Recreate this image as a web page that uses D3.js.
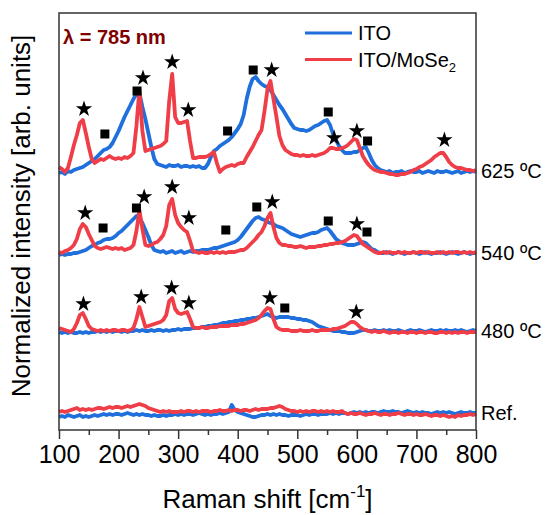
<!DOCTYPE html>
<head lang="en">
<meta charset="utf-8">
<title>Raman spectra ITO vs ITO/MoSe2</title>
<style>
body { margin:0; background:#fff; }
* { font-family:"Liberation Sans", Arial, sans-serif; }
</style>
<script src="https://cdn.jsdelivr.net/npm/d3@7"></script>
</head>
<body>
<script>
// Raman shift sampling (cm-1), one value every 5 cm-1
var shift = d3.range(100, 801, 5);

// vertical offset of each spectrum pair (arb. units)
var bands = ["Ref.", "480 ºC", "540 ºC", "625 ºC"];
var offsets = [17, 99, 177, 259];

// intensities, relative to each band's baseline
var itoRef = [-4,-3,-4,-2,-3,-4,-3,-2,-4,-3, -4,-3,-2,-3,-2,-1,-2,-1,-2,-1,
  -1,-2,-1,0,-1,-2,-1,-2,-1,-2, -2,-3,-2,-3,-3,-2,-3,-2,-2,-1,
  -2,-1,-2,-1,-1,-2,-1,0,-1,-2, -1,-2,-1,-1,0,-1,0,1,8,3,
  1,0,-1,-2,-3,-4,-4,-3,-2,-2, -1,-2,-1,-2,-1,-2,-2,-3,-2,-2,
  -2,-3,-2,-1,-2,-1,-1,-2,-1,-1, -1,0,-1,0,-1,0,0,-1,0,1,
  0,1,0,1,0,1,1,0,1,2, 1,1,2,1,1,0,1,2,1,0,
  1,0,1,0,0,-1,0,1,0,1, 0,1,0,-1,0,1,0,0,1,0, 0];
var moseRef = [1,2,1,2,3,4,5,3,4,3, 4,3,4,5,5,4,5,6,5,6,
  6,5,6,7,6,7,8,9,8,7, 5,4,3,2,1,2,1,2,1,1,
  1,2,1,2,2,1,2,1,2,2, 2,1,2,2,3,2,2,3,2,3,
  3,2,3,3,2,3,4,3,4,4, 4,5,5,6,7,6,4,3,2,2,
  1,2,1,2,1,2,2,1,2,1, 2,1,2,1,1,2,0,-1,0,-1,
  -1,0,-1,-2,-1,-1,0,-1,-2,-1, -1,-2,-1,-1,0,-1,-2,-1,-1,-2,
  -1,-2,-2,-1,-2,-3,-2,-2,-3,-2, -3,-4,-3,-4,-2,-3,-2,-2,-1,-2, -1];

var ito480 = [-1,-2,-1,-2,-1,-2,-2,-1,-2,-1, -2,-1,-1,0,-1,0,-1,0,-1,0,
  0,-1,0,-1,0,0,1,0,1,0, 0,1,0,1,1,0,1,0,1,1,
  2,1,2,2,2,3,3,3,4,4, 5,5,6,6,7,8,8,9,9,10,
  10,11,11,12,12,13,13,14,15,16, 17,15,14,13,14,14,14,14,13,13,
  12,12,11,11,10,9,7,5,4,3, 2,1,0,0,0,-1,-1,-2,-2,-2,
  -1,0,1,1,0,0,1,0,0,1, 0,1,0,0,1,0,-1,0,1,0,
  0,1,0,-1,0,1,0,0,1,0, 1,0,0,1,0,1,0,-1,0,1, 0];
var mose480 = [3,2,1,0,-1,2,8,16,18,12, 5,2,1,0,1,0,1,0,1,1,
  0,1,1,0,1,3,12,24,14,4, 5,6,7,8,9,11,16,30,33,22,
  18,17,18,19,12,4,3,3,4,3, 3,4,4,4,5,5,5,5,6,6,
  6,7,7,8,9,10,11,13,16,20, 23,22,12,4,2,1,1,1,0,0,
  0,1,0,0,0,1,0,0,1,1, 1,1,2,2,3,4,5,7,9,9,
  7,4,2,1,0,-1,0,-1,-1,0, -1,-2,-1,-1,-2,-1,-1,-2,-1,-1,
  -2,-1,-1,-2,-1,-1,-2,-2,-1,-1, -2,-1,-2,-1,-2,-1,-1,-2,-1,-1, -1];

var ito540 = [-2,-1,-2,-1,-1,0,0,1,2,3, 5,7,8,10,11,13,14,14,15,17,
  20,22,25,28,31,34,37,36,30,23, 16,8,3,2,1,2,0,1,2,0,
  1,2,0,1,2,1,2,2,3,3, 3,4,5,5,6,7,8,9,10,11,
  13,16,20,24,28,32,35,36,34,33, 31,30,29,27,26,25,23,21,19,18,
  17,16,17,18,19,20,20,21,23,24, 25,22,18,14,12,10,9,8,8,8,
  9,10,11,10,7,4,3,1,0,0, 1,0,-1,0,1,0,-1,0,0,1,
  0,-1,0,1,0,-1,0,0,1,0, -1,0,1,0,-1,0,1,0,-1,0, 0];
var mose540 = [1,0,2,3,5,8,14,24,29,26, 19,13,7,5,4,5,6,5,4,5,
  4,5,3,4,5,8,22,43,24,8, 7,8,10,11,14,18,27,48,54,38,
  30,26,23,21,12,2,1,0,1,0, 0,1,0,1,0,1,0,1,1,1,
  2,3,3,5,8,11,14,18,21,27, 35,40,26,15,10,8,8,7,7,6,
  6,7,6,5,6,6,6,7,7,8, 8,9,9,10,10,11,12,14,16,18,
  17,13,9,7,5,3,1,0,0,1, 0,1,0,0,1,0,1,0,0,1,
  0,1,1,0,1,0,0,1,0,1, 0,1,0,1,1,0,1,0,1,0, 1];

var ito625 = [-2,-1,-3,0,-1,1,2,3,4,6, 8,10,12,15,18,21,22,24,28,34,
  40,47,54,60,66,72,77,78,64,52, 38,24,12,7,6,5,4,6,5,5,
  6,4,5,5,4,5,4,5,3,3, 7,14,20,22,25,27,29,31,34,38,
  42,47,56,72,84,92,94,90,87,85, 84,81,76,71,66,62,57,52,47,43,
  42,41,41,40,41,43,45,46,48,50, 51,46,37,31,25,21,18,18,18,19,
  19,21,23,24,18,11,6,3,1,0, -1,0,-2,-1,-1,0,-2,-1,0,-1,
  -1,0,-2,-1,0,-1,-2,0,-1,-1, 0,-1,-2,-1,0,-2,-1,0,-1,0, -1];
var mose625 = [4,2,-1,3,14,26,36,48,51,38, 24,12,8,10,12,11,13,15,13,12,
  13,12,14,13,15,18,45,82,40,20, 21,22,23,24,25,27,30,70,97,54,
  48,48,49,50,30,13,13,14,14,14, 15,17,19,8,-1,2,4,5,6,5,
  7,8,8,14,19,24,30,36,41,60, 82,90,72,54,35,26,21,19,17,16,
  16,15,16,15,15,16,15,16,17,18, 20,23,23,22,22,23,24,26,29,32,
  31,23,15,10,6,3,1,0,-1,-1, -2,-3,-3,-4,-4,-3,-3,-2,-1,1,
  2,4,5,7,9,11,14,16,18,18, 14,9,6,4,3,3,2,1,1,0, 1];

var itoSeries = [itoRef, ito480, ito540, ito625];
var moseSeries = [moseRef, mose480, mose540, mose625];

// peak markers: [band index, Raman shift, height above baseline]
var starMarks = [[3,142,62],[3,241,93],[3,290,109],[3,317,61],[3,457,101],[3,562,33],[3,600,40],[3,747,31],
  [2,144,40],[2,243,56],[2,290,66],[2,318,35],[2,458,51],[2,600,29],
  [1,141,27],[1,238,34],[1,289,43],[1,318,28],[1,454,33],[1,599,19]];
var squareMarks = [[3,177,37],[3,231,80],[3,383,40],[3,426,101],[3,552,59],[3,618,30],
  [2,174,25],[2,230,45],[2,380,23],[2,432,46],[2,552,32],[2,617,21],
  [1,479,23]];

var xTicks = [100, 200, 300, 400, 500, 600, 700, 800];
var xMinor = [150, 250, 350, 450, 550, 650, 750];

var blue = "#1f6fdc", red = "#ef3e47", frame = "#333";

var width = 547, height = 515;
var m = {left: 59, top: 13, right: 71, bottom: 85};
var w = width - m.left - m.right, h = height - m.top - m.bottom;

var svg = d3.select("body").append("svg")
    .attr("width", width)
    .attr("height", height);

var x = d3.scaleLinear().domain([100, 800]).range([m.left, m.left + w]);
var y = d3.scaleLinear().domain([0, 417]).range([m.top + h, m.top]);

var plot = svg.append("g");

function drawBand(series, color) {
    series.forEach(function(vals, b) {
        var line = d3.line()
            .x(function(d, i) { return x(shift[i]); })
            .y(function(d) { return y(offsets[b] + d); });
        plot.append("path")
            .datum(vals)
            .attr("d", line)
            .attr("fill", "none")
            .attr("stroke", color)
            .attr("stroke-width", 3.8)
            .attr("stroke-linejoin", "round");
    });
}
drawBand(itoSeries, blue);
drawBand(moseSeries, red);

// markers
plot.selectAll("path.star")
    .data(starMarks)
    .enter()
    .append("path")
        .attr("class", "star")
        .attr("d", d3.symbol().type(d3.symbolStar).size(82))
        .attr("transform", function(d) { return "translate(" + x(d[1]) + "," + y(offsets[d[0]] + d[2]) + ")"; })
        .attr("fill", "#000");

plot.selectAll("rect.sq")
    .data(squareMarks)
    .enter()
    .append("rect")
        .attr("class", "sq")
        .attr("x", function(d) { return x(d[1]) - 4.5; })
        .attr("y", function(d) { return y(offsets[d[0]] + d[2]) - 4.5; })
        .attr("width", 9)
        .attr("height", 9)
        .attr("fill", "#000");

// frame
svg.append("rect")
    .attr("x", m.left).attr("y", m.top)
    .attr("width", w).attr("height", h)
    .attr("fill", "none")
    .attr("stroke", frame)
    .attr("stroke-width", 1.5);

// x axis
var xAxis = svg.append("g")
    .attr("transform", "translate(0," + (m.top + h) + ")")
    .call(d3.axisBottom(x).tickValues(xTicks).tickSize(9).tickPadding(6).tickFormat(d3.format("d")));
xAxis.select(".domain").remove();
xAxis.selectAll("line").attr("stroke", frame).attr("stroke-width", 1.5);
xAxis.selectAll("text").attr("font-size", 25).attr("fill", "#000")
    .style("font-family", "'Liberation Sans', Arial, sans-serif");

var xAxisMinor = svg.append("g")
    .attr("transform", "translate(0," + (m.top + h) + ")")
    .call(d3.axisBottom(x).tickValues(xMinor).tickSize(5).tickFormat(""));
xAxisMinor.select(".domain").remove();
xAxisMinor.selectAll("line").attr("stroke", frame).attr("stroke-width", 1.5);

// axis titles
var xTitle = svg.append("text")
    .attr("x", m.left + w / 2)
    .attr("y", 508)
    .attr("text-anchor", "middle")
    .attr("font-size", 26);
xTitle.append("tspan").text("Raman shift [cm");
xTitle.append("tspan").attr("font-size", 17).attr("dy", -11).text("-1");
xTitle.append("tspan").attr("dy", 11).text("]");

svg.append("text")
    .attr("transform", "translate(30," + 216 + ") rotate(-90)")
    .attr("text-anchor", "middle")
    .attr("font-size", 26)
    .text("Normalized intensity [arb. units]");

// band labels on the right
svg.selectAll("text.band")
    .data(bands)
    .enter()
    .append("text")
        .attr("class", "band")
        .attr("x", m.left + w + 5)
        .attr("y", function(d, i) { return y(offsets[i]); })
        .attr("dy", "0.36em")
        .attr("font-size", 20)
        .text(function(d) { return d; });

// wavelength note
svg.append("text")
    .attr("x", 63).attr("y", 44)
    .attr("font-size", 20)
    .attr("font-weight", "bold")
    .attr("fill", "#800000")
    .text("λ = 785 nm");

// legend
var legend = [["ITO", blue], ["ITO/MoSe", red]];
var lg = svg.selectAll("g.leg")
    .data(legend)
    .enter()
    .append("g")
        .attr("class", "leg")
        .attr("transform", function(d, i) { return "translate(305," + (33 + i * 26.5) + ")"; });
lg.append("line")
    .attr("x1", 0).attr("x2", 47)
    .attr("stroke", function(d) { return d[1]; })
    .attr("stroke-width", 3.2);
var lt = lg.append("text")
    .attr("x", 53).attr("y", 7)
    .attr("font-size", 20)
    .text(function(d) { return d[0]; });
lt.filter(function(d, i) { return i == 1; })
    .append("tspan").attr("font-size", 13).attr("dy", 5).text("2");
</script>
</body>
</html>
